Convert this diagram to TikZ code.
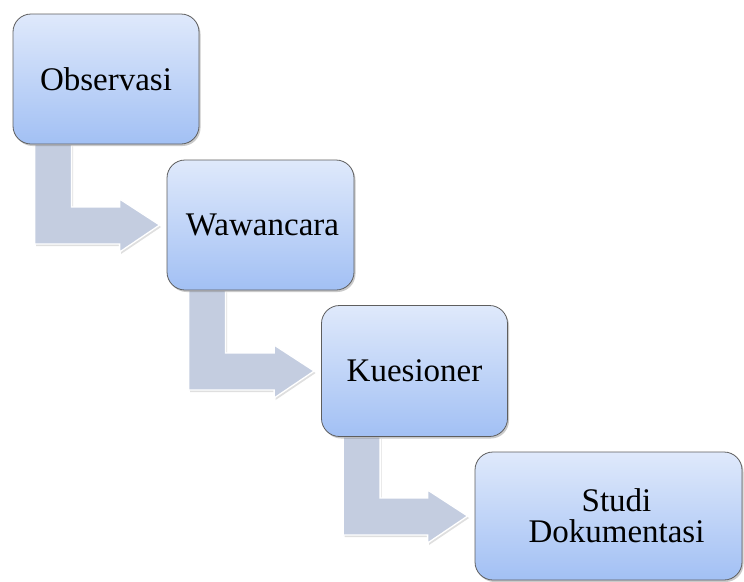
\documentclass[tikz,border=0pt]{standalone}
\usepackage{fontspec}
\setmainfont{Liberation Serif}
\usetikzlibrary{calc,shadows,backgrounds}
\definecolor{boxtop}{HTML}{DFE9FB}
\definecolor{boxbot}{HTML}{A2C0F4}
\definecolor{boxline}{HTML}{5E5E5E}
\definecolor{arrowfill}{HTML}{C4CDE0}
\tikzset{
  stepbox/.style={rectangle, rounded corners=18pt, draw=boxline, line width=0.8pt,
    top color=boxtop, bottom color=boxbot, align=center,
    font=\fontsize{33}{31}\selectfont,
    drop shadow={shadow xshift=1.5pt, shadow yshift=-2pt, opacity=0.35, fill=black!60}},
  bentarrow/.style={fill=arrowfill, draw=white, line width=1.3pt, line join=miter,
    drop shadow={shadow xshift=1.5pt, shadow yshift=-2pt, opacity=0.25, fill=black!50}}
}
\newcommand{\bentarr}[2]{%
  \coordinate (s1) at ($(#1.south west)+(22,0)$);
  \coordinate (s2) at ($(#1.south west)+(59,0)$);
  \coordinate (tp) at ($(#2.west)+(-7,0)$);
  \coordinate (lb) at ($(tp)+(-40,19)$);
  \coordinate (hb) at ($(tp)+(-40,27)$);
  \coordinate (ht) at ($(tp)+(-40,-26)$);
  \coordinate (lt) at ($(tp)+(-40,-18)$);
  \draw[bentarrow] (s1) -- (s1 |- lb) -- (lb) -- (hb) -- (tp) -- (ht) -- (lt) -- (s2 |- lt) -- (s2) -- cycle;
}
\begin{document}
\begin{tikzpicture}[x=1pt,y=-1pt]
\useasboundingbox (0,0) rectangle (744,581);
\node[stepbox, minimum width=186pt, minimum height=130pt] (obs) at (106,79) {Observasi};
\node[stepbox, minimum width=187pt, minimum height=130pt] (waw) at (260.5,225) {\hspace*{4pt}Wawancara};
\node[stepbox, minimum width=186pt, minimum height=131pt] (kue) at (414.5,371) {Kuesioner};
\node[stepbox, minimum width=267pt, minimum height=128pt] (stu) at (608.5,516) {\hspace*{16pt}Studi\\\hspace*{16pt}Dokumentasi};
\begin{scope}[on background layer]
\bentarr{obs}{waw}
\bentarr{waw}{kue}
\bentarr{kue}{stu}
\end{scope}
\end{tikzpicture}
\end{document}
